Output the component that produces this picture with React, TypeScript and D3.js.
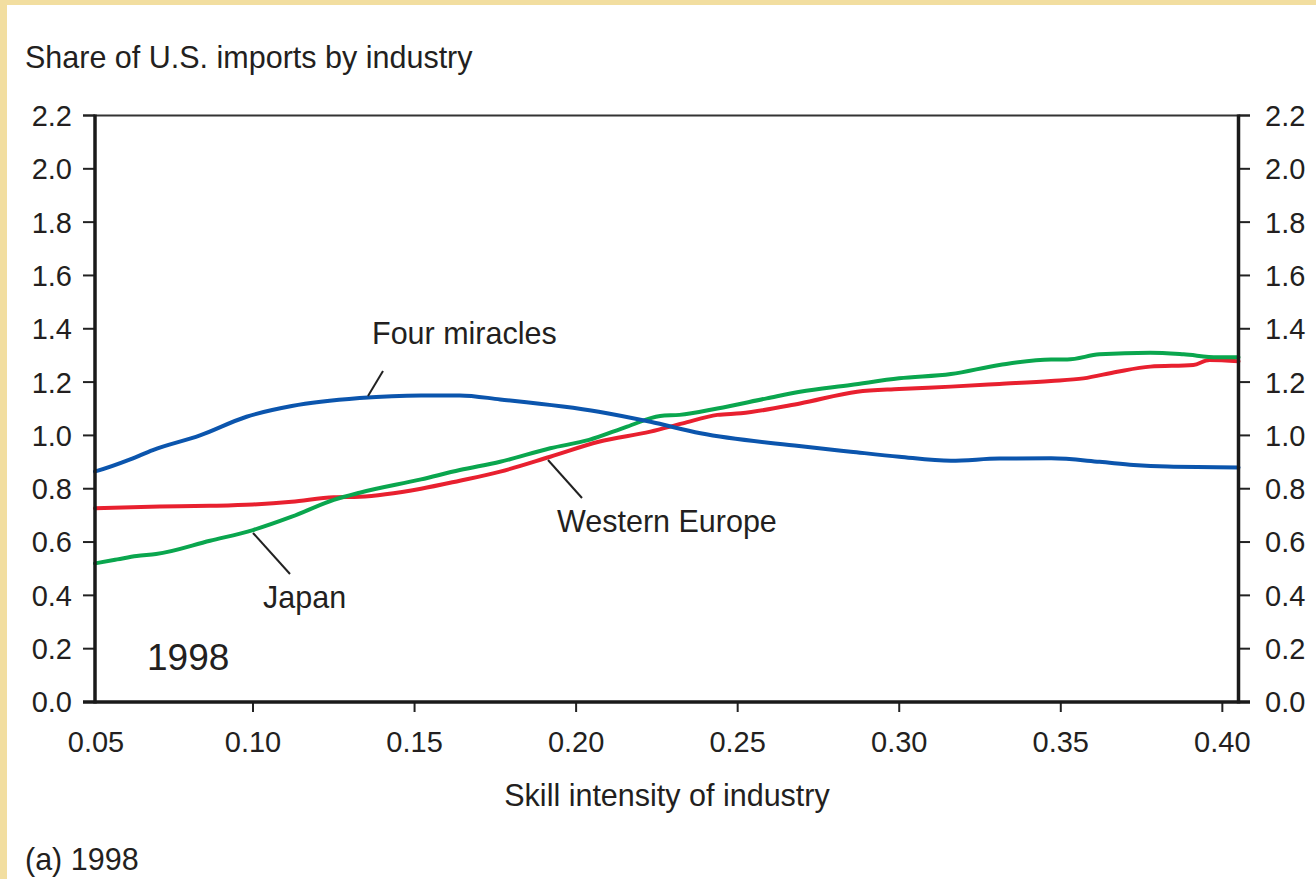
import React from "react";
import * as d3 from "d3";

const W = 1316;
const H = 879;

// Skill intensity (x) and share of imports (y)
const fourMiraclesX = [0.0511, 0.052, 0.062, 0.069, 0.0836, 0.098, 0.112, 0.133, 0.152, 0.164, 0.1765, 0.207, 0.223, 0.2385, 0.269, 0.285, 0.300, 0.316, 0.331, 0.347, 0.362, 0.3725, 0.383, 0.405];
const fourMiraclesY = [0.865, 0.868, 0.91, 0.945, 1.0, 1.07, 1.11, 1.14, 1.15, 1.15, 1.135, 1.089, 1.051, 1.008, 0.96, 0.939, 0.92, 0.905, 0.913, 0.914, 0.901, 0.889, 0.883, 0.88];

const westernEuropeX = [0.0511, 0.0712, 0.0867, 0.10, 0.112, 0.125, 0.133, 0.152, 0.164, 0.1765, 0.192, 0.207, 0.223, 0.233, 0.2437, 0.251, 0.2693, 0.287, 0.300, 0.316, 0.331, 0.347, 0.357, 0.3675, 0.3777, 0.391, 0.396, 0.405];
const westernEuropeY = [0.727, 0.733, 0.736, 0.741, 0.751, 0.768, 0.77, 0.80, 0.83, 0.864, 0.92, 0.976, 1.014, 1.045, 1.077, 1.083, 1.12, 1.164, 1.174, 1.183, 1.193, 1.204, 1.214, 1.239, 1.258, 1.264, 1.283, 1.278];

const japanX = [0.0511, 0.058, 0.064, 0.070, 0.0867, 0.10, 0.112, 0.125, 0.133, 0.152, 0.164, 0.1765, 0.192, 0.204, 0.2158, 0.226, 0.232, 0.2437, 0.259, 0.2693, 0.285, 0.300, 0.316, 0.331, 0.347, 0.352, 0.362, 0.3777, 0.388, 0.3985, 0.405];
const japanY = [0.52, 0.535, 0.548, 0.555, 0.605, 0.645, 0.695, 0.758, 0.785, 0.835, 0.87, 0.901, 0.952, 0.983, 1.033, 1.073, 1.077, 1.101, 1.139, 1.164, 1.189, 1.214, 1.23, 1.264, 1.285, 1.285, 1.304, 1.31, 1.304, 1.293, 1.293];

const xTickValues = [0.05, 0.10, 0.15, 0.20, 0.25, 0.30, 0.35, 0.40];
const xTickLabels = ["0.05", "0.10", "0.15", "0.20", "0.25", "0.30", "0.35", "0.40"];
const yTickValues = [0.0, 0.2, 0.4, 0.6, 0.8, 1.0, 1.2, 1.4, 1.6, 1.8, 2.0, 2.2];

const xDomain = [0.0511, 0.405];
const yDomain = [0, 2.2];

const FONT = "'Liberation Sans', Arial, Helvetica, sans-serif";
const TXT = "#231f20";
const LABEL = 30.5;
const TICK = 29;

export default function App() {
  const left = 95;
  const right = 1238.5;
  const top = 115.5;
  const bottom = 702;

  const x = d3.scaleLinear().domain(xDomain).range([left, right]);
  const y = d3.scaleLinear().domain(yDomain).range([bottom, top]);

  const line = d3
    .line<[number, number]>()
    .x((d) => x(d[0]))
    .y((d) => y(d[1]))
    .curve(d3.curveMonotoneX);

  const zip = (xs: number[], ys: number[]) => xs.map((v, i) => [v, ys[i]] as [number, number]);

  const series = [
    { name: "Western Europe", xs: westernEuropeX, ys: westernEuropeY, color: "#e8202f" },
    { name: "Japan", xs: japanX, ys: japanY, color: "#0aa64e" },
    { name: "Four miracles", xs: fourMiraclesX, ys: fourMiraclesY, color: "#0b55ad" },
  ];

  return (
    <svg
      width={W}
      height={H}
      style={{ position: "absolute", left: 0, top: 0, display: "block" }}
      fontFamily={FONT}
    >
      <rect x={0} y={0} width={W} height={H} fill="#f2dea0" />
      <rect x={7} y={5} width={W - 7} height={H - 5} fill="#ffffff" />

      <text x={25} y={68} fontSize={LABEL} fill={TXT}>
        Share of U.S. imports by industry
      </text>

      {/* top frame line */}
      <line x1={83} x2={1250} y1={top} y2={top} stroke="#333" strokeWidth={2.2} />

      {/* y ticks left and right */}
      {yTickValues.map((v) => (
        <g key={"yt" + v}>
          <line x1={83} x2={left} y1={y(v)} y2={y(v)} stroke="#222" strokeWidth={2} />
          <line x1={right} x2={1250} y1={y(v)} y2={y(v)} stroke="#222" strokeWidth={2} />
          <text x={72} y={y(v)} dy="0.36em" textAnchor="end" fontSize={TICK} fill={TXT}>
            {v.toFixed(1)}
          </text>
          <text x={1265} y={y(v)} dy="0.36em" textAnchor="start" fontSize={TICK} fill={TXT}>
            {v.toFixed(1)}
          </text>
        </g>
      ))}

      {/* x ticks */}
      {xTickValues.map((v, i) => {
        const px = Math.max(x(v), left + 1);
        return (
          <g key={"xt" + v}>
            {x(v) > left + 2 && (
              <line x1={px} x2={px} y1={bottom} y2={bottom + 10} stroke="#222" strokeWidth={2} />
            )}
            <text x={px} y={752} textAnchor="middle" fontSize={TICK} fill={TXT}>
              {xTickLabels[i]}
            </text>
          </g>
        );
      })}

      {/* series */}
      {series.map((s) => (
        <path
          key={s.name}
          d={line(zip(s.xs, s.ys)) || ""}
          fill="none"
          stroke={s.color}
          strokeWidth={4}
          strokeLinejoin="round"
          strokeLinecap="round"
        />
      ))}

      {/* axes */}
      <line x1={left} x2={left} y1={top - 1} y2={bottom + 1.5} stroke="#1a1a1a" strokeWidth={3.5} />
      <line x1={right} x2={right} y1={top - 1} y2={bottom + 1.5} stroke="#1a1a1a" strokeWidth={3.5} />
      <line x1={83} x2={1250} y1={bottom} y2={bottom} stroke="#1a1a1a" strokeWidth={3.5} />

      {/* annotations */}
      <line x1={368} y1={396} x2={383} y2={371} stroke="#222" strokeWidth={2} />
      <text x={372} y={344} fontSize={LABEL} fill={TXT}>
        Four miracles
      </text>

      <line x1={548} y1={460} x2={582} y2={498} stroke="#222" strokeWidth={2} />
      <text x={557} y={532} fontSize={LABEL} fill={TXT}>
        Western Europe
      </text>

      <line x1={253} y1={533} x2={290} y2={574} stroke="#222" strokeWidth={2} />
      <text x={263} y={608} fontSize={LABEL} fill={TXT}>
        Japan
      </text>

      <text x={147} y={670} fontSize={37} fill={TXT}>
        1998
      </text>

      <text x={667} y={806} textAnchor="middle" fontSize={LABEL} fill={TXT}>
        Skill intensity of industry
      </text>

      <text x={25} y={870} fontSize={LABEL} fill={TXT}>
        (a) 1998
      </text>
    </svg>
  );
}
